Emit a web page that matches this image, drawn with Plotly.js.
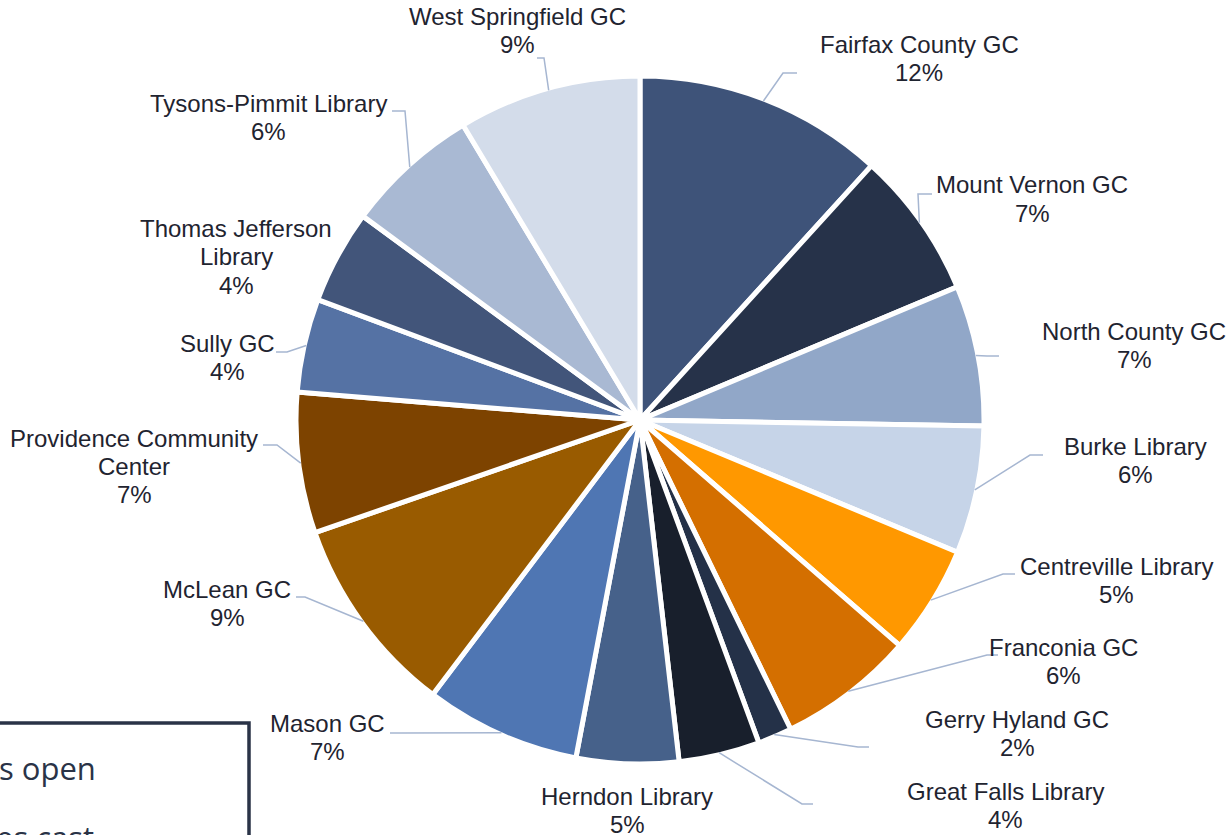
<!DOCTYPE html>
<html>
<head>
<meta charset="utf-8">
<script src="https://cdn.plot.ly/plotly-3.0.1.min.js"></script>
<style>
html,body{margin:0;padding:0;background:#fff;overflow:hidden;}
#chart{width:1232px;height:835px;}
</style>
</head>
<body>
<div id="chart"></div>
<script>
// ---- data ----
const categories = [
  "Fairfax County GC","Mount Vernon GC","North County GC","Burke Library",
  "Centreville Library","Franconia GC","Gerry Hyland GC","Great Falls Library",
  "Herndon Library","Mason GC","McLean GC","Providence Community Center",
  "Sully GC","Thomas Jefferson Library","Tysons-Pimmit Library","West Springfield GC"
];
const displayLines = [
  ["Fairfax County GC"],["Mount Vernon GC"],["North County GC"],["Burke Library"],
  ["Centreville Library"],["Franconia GC"],["Gerry Hyland GC"],["Great Falls Library"],
  ["Herndon Library"],["Mason GC"],["McLean GC"],["Providence Community","Center"],
  ["Sully GC"],["Thomas Jefferson","Library"],["Tysons-Pimmit Library"],["West Springfield GC"]
];
const shares = [11.75, 6.92, 6.6, 6.0, 5.1, 6.4, 1.6, 3.8, 4.8, 7.3, 9.4, 6.6, 4.4, 4.4, 6.3, 8.6];
const colors = [
  "#3E5379","#263249","#91A7C8","#C6D4E8",
  "#FF9800","#D46F00","#243148","#181F2C",
  "#46618A","#4F76B3","#995B00","#7D4300",
  "#5572A4","#42557A","#A9B9D3","#D3DCEA"
];

// ---- layout helpers (label placement, pixels) ----
const W = 1232, H = 835;
const CX = 640, CY = 420, R = 342;
const RD = 344; // domain half-size (Plotly trims border width)
const labelPos = [
  {x:919, y:45,  elbow:[783,73],  end:[797,73]},
  {x:1032,y:185, elbow:[918,194], end:[932,194]},
  {x:1134,y:331, elbow:[987,356], end:[999,356]},
  {x:1135,y:446, elbow:[1030,455],end:[1043,455]},
  {x:1116,y:566, elbow:[1003,574],end:[1015,574]},
  {x:1063,y:647, elbow:[987,655], end:[998,655]},
  {x:1017,y:719, elbow:[858,747], end:[869,747]},
  {x:1005,y:791, elbow:[802,804], end:[813,804]},
  {x:627, y:796, elbow:null, end:null},
  {x:327, y:723, elbow:[402,733], end:[390,733]},
  {x:227, y:589, elbow:[305,597], end:[296,597]},
  {x:134, y:438, elbow:[277,445], end:[263,445]},
  {x:227, y:343, elbow:[287,352], end:[276,352]},
  {x:236, y:229, elbow:null, end:null},
  {x:268, y:103, elbow:[405,111], end:[392,111]},
  {x:517, y:17,  elbow:[544,58],  end:[537,58]}
];
const LINE_H = 28;
const px = x => x / W;
const py = y => 1 - y / H;

const total = shares.reduce((a,b)=>a+b,0);
const annotations = [];
const shapes = [];
let cum = 0;
shares.forEach((v,i)=>{
  const mid = (cum + v/2) / total * 2 * Math.PI;
  cum += v;
  const sx = CX + R * Math.sin(mid), sy = CY - R * Math.cos(mid);
  const lp = labelPos[i];
  const lines = displayLines[i].concat([Math.round(v/total*100) + "%"]);
  lines.forEach((t,k)=>{
    annotations.push({
      xref:"paper", yref:"paper", x:px(lp.x), y:py(lp.y + k*LINE_H),
      xanchor:"center", yanchor:"middle", showarrow:false, text:t,
      font:{family:"Liberation Sans, Arial, sans-serif", size:24, color:"#1F2430"}
    });
  });
  if (lp.elbow) {
    shapes.push({
      type:"path", xref:"paper", yref:"paper",
      path:`M ${px(sx)} ${py(sy)} L ${px(lp.elbow[0])} ${py(lp.elbow[1])} L ${px(lp.end[0])} ${py(lp.end[1])}`,
      line:{color:"#A6B6D1", width:1.5}
    });
  }
});

// overlapping text box at bottom-left
shapes.push({
  type:"rect", xref:"paper", yref:"paper",
  x0:px(-10), x1:px(249), y0:py(860), y1:py(723),
  line:{color:"#2A3347", width:3.5}, fillcolor:"rgba(255,255,255,1)", layer:"above"
});
annotations.push({
  xref:"paper", yref:"paper", x:px(-3), y:py(768), xanchor:"left", yanchor:"middle",
  showarrow:false, text:"s open",
  font:{family:"Open Sans, sans-serif", size:31, color:"#2A3347"}
});
annotations.push({
  xref:"paper", yref:"paper", x:px(-6), y:py(837), xanchor:"left", yanchor:"middle",
  showarrow:false, text:"es cast",
  font:{family:"Open Sans, sans-serif", size:31, color:"#2A3347"}
});

const trace = {
  type:"pie",
  labels: categories,
  values: shares,
  sort:false,
  direction:"clockwise",
  rotation:0,
  textinfo:"none",
  hoverinfo:"none",
  marker:{colors:colors, line:{color:"#FFFFFF", width:5}},
  domain:{x:[(CX-RD)/W,(CX+RD)/W], y:[1-(CY+RD)/H, 1-(CY-RD)/H]}
};

const layout = {
  width:W, height:H,
  margin:{l:0,r:0,t:0,b:0},
  paper_bgcolor:"#FFFFFF",
  showlegend:false,
  annotations: annotations,
  shapes: shapes
};

Plotly.newPlot("chart",[trace],layout,{displayModeBar:false,staticPlot:true});
</script>
</body>
</html>
